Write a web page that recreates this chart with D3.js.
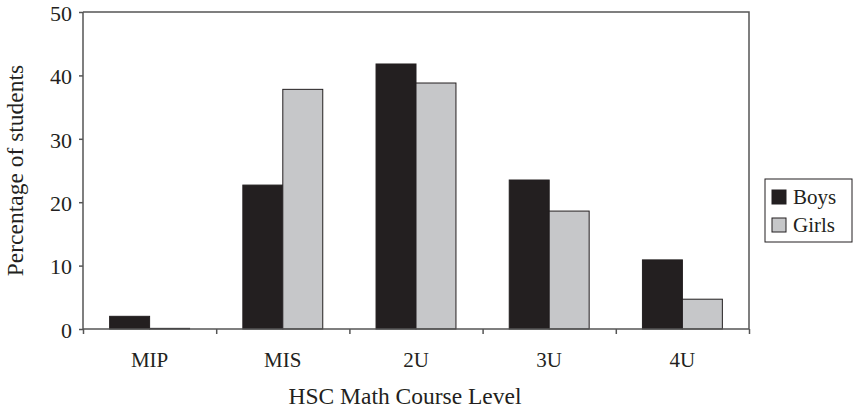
<!DOCTYPE html>
<html>
<head>
<meta charset="utf-8">
<script src="https://cdn.jsdelivr.net/npm/d3@7"></script>
<style>
  body { margin: 0; background: #fff; }
  svg text { font-family: "Liberation Serif", "DejaVu Serif", serif; fill: #231f20; }
</style>
</head>
<body>
<div id="chart"></div>
<script>
// chart data
const courses = ['MIP', 'MIS', '2U', '3U', '4U'];
const groups = ['Boys', 'Girls'];
const boys = [2.0, 22.7, 41.8, 23.5, 10.9];
const girls = [0.1, 37.8, 38.8, 18.6, 4.7];
const yTicks = [0, 10, 20, 30, 40, 50];

const colors = {Boys: '#231f20', Girls: '#c6c7c9'};

// layout
const width = 853, height = 413;
const margin = {t: 12, r: 104, b: 84, l: 83};
const w = width - margin.l - margin.r;
const h = height - margin.t - margin.b;

const svg = d3.select('#chart').append('svg')
    .attr('width', width)
    .attr('height', height);

const plot = svg.append('g')
    .attr('transform', `translate(${margin.l},${margin.t})`);

// scales
const scaleX = d3.scaleBand()
    .domain(courses)
    .range([0, w])
    .paddingInner(0)
    .paddingOuter(0);
const scaleX1 = d3.scaleBand()
    .domain(groups)
    .range([scaleX.bandwidth() * 0.2, scaleX.bandwidth() * 0.8]);
const scaleY = d3.scaleLinear()
    .domain([0, 50])
    .range([h, 0]);

// plot frame (top and right)
plot.append('path')
    .attr('d', `M0,0H${w}V${h}`)
    .style('fill', 'none')
    .style('stroke', '#555')
    .style('stroke-width', 1.5);

// bars
const rows = courses.map((c, i) => ({course: c, values: [
    {key: 'Boys', value: boys[i]},
    {key: 'Girls', value: girls[i]}
]}));

const barGroups = plot.selectAll('.course')
    .data(rows)
    .enter()
    .append('g')
    .attr('class', 'course')
    .attr('transform', d => `translate(${scaleX(d.course)},0)`);

barGroups.selectAll('rect')
    .data(d => d.values)
    .enter()
    .append('rect')
    .attr('x', d => scaleX1(d.key))
    .attr('y', d => scaleY(d.value))
    .attr('width', scaleX1.bandwidth())
    .attr('height', d => h - scaleY(d.value))
    .style('fill', d => colors[d.key])
    .style('stroke', '#231f20')
    .style('stroke-width', 1);

// axes
const axisY = d3.axisLeft(scaleY)
    .tickValues(yTicks)
    .tickSize(4)
    .tickPadding(7);
const axisYNode = plot.append('g')
    .attr('class', 'axis axis-y')
    .call(axisY);
axisYNode.select('.domain').attr('d', `M0,0V${h}`);

const axisX = d3.axisBottom(d3.scaleLinear().domain([0, courses.length]).range([0, w]))
    .tickValues(d3.range(courses.length + 1))
    .tickSize(5)
    .tickFormat('');
const axisXNode = plot.append('g')
    .attr('class', 'axis axis-x')
    .attr('transform', `translate(0,${h})`)
    .call(axisX);
axisXNode.select('.domain').attr('d', `M0,0H${w}`);

svg.selectAll('.axis path, .axis line')
    .style('stroke', '#555')
    .style('stroke-width', 1.5);
axisYNode.selectAll('text')
    .attr('dy', '0.38em')
    .style('font-size', '22px')
    .style('fill', '#231f20');

// category labels
plot.selectAll('.cat-label')
    .data(courses)
    .enter()
    .append('text')
    .attr('class', 'cat-label')
    .attr('x', d => scaleX(d) + scaleX.bandwidth() / 2)
    .attr('y', h + 38)
    .attr('text-anchor', 'middle')
    .style('font-size', '21px')
    .text(d => d);

// axis titles
svg.append('text')
    .attr('x', 405)
    .attr('y', 404)
    .attr('text-anchor', 'middle')
    .style('font-size', '23.5px')
    .text('HSC Math Course Level');

svg.append('text')
    .attr('transform', `translate(23,${margin.t + h / 2}) rotate(-90)`)
    .attr('text-anchor', 'middle')
    .style('font-size', '23.5px')
    .text('Percentage of students');

// legend
const legend = svg.append('g')
    .attr('transform', 'translate(765,179)');
legend.append('rect')
    .attr('width', 87)
    .attr('height', 63)
    .style('fill', '#fff')
    .style('stroke', '#231f20')
    .style('stroke-width', 1);
const legendItems = legend.selectAll('.legend-item')
    .data(groups)
    .enter()
    .append('g')
    .attr('class', 'legend-item')
    .attr('transform', (d, i) => `translate(7,${11 + i * 28})`);
legendItems.append('rect')
    .attr('width', 14)
    .attr('height', 14)
    .style('fill', d => colors[d])
    .style('stroke', '#231f20')
    .style('stroke-width', 1);
legendItems.append('text')
    .attr('x', 21)
    .attr('y', 14)
    .style('font-size', '21px')
    .text(d => d);
</script>
</body>
</html>
